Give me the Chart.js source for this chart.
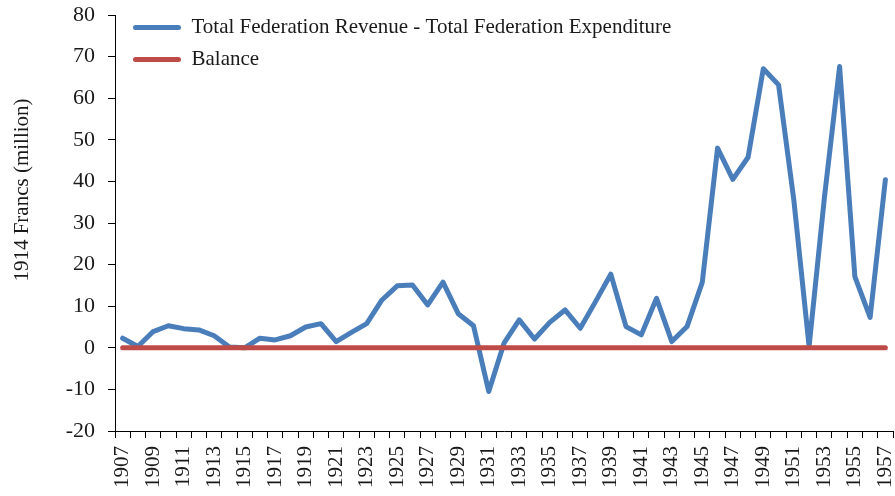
<!DOCTYPE html>
<html>
<head>
<meta charset="utf-8">
<script src="https://cdn.jsdelivr.net/npm/chart.js@4"></script>
<style>
  html, body { margin: 0; padding: 0; background: #fff; }
  #wrap { width: 895px; height: 496px; position: relative; }
</style>
</head>
<body>
<div id="wrap"><canvas id="c" width="895" height="496"></canvas></div>
<script>
const years = ['1907','1908','1909','1910','1911','1912','1913','1914','1915','1916',
  '1917','1918','1919','1920','1921','1922','1923','1924','1925','1926',
  '1927','1928','1929','1930','1931','1932','1933','1934','1935','1936',
  '1937','1938','1939','1940','1941','1942','1943','1944','1945','1946',
  '1947','1948','1949','1950','1951','1952','1953','1954','1955','1956','1957'];

const revenueMinusExpenditure = [2.3, 0.3, 3.9, 5.3, 4.6, 4.3, 2.9, 0.2, 0.0, 2.3,
  1.9, 2.9, 5.0, 5.8, 1.5, 3.7, 5.8, 11.5, 14.9, 15.1,
  10.3, 15.8, 8.2, 5.3, -10.5, 1.1, 6.7, 2.1, 6.1, 9.1,
  4.7, 11.1, 17.7, 5.1, 3.1, 11.9, 1.5, 5.1, 15.8, 48.0,
  40.5, 45.8, 67.1, 63.2, 35.5, 0.3, 36.0, 67.6, 17.1, 7.3, 40.4];

const balance = [0, 0, 0, 0, 0, 0, 0, 0, 0, 0,
  0, 0, 0, 0, 0, 0, 0, 0, 0, 0,
  0, 0, 0, 0, 0, 0, 0, 0, 0, 0,
  0, 0, 0, 0, 0, 0, 0, 0, 0, 0,
  0, 0, 0, 0, 0, 0, 0, 0, 0, 0, 0];

const seriesNames = ['Total Federation Revenue - Total Federation Expenditure', 'Balance'];
const yTitle = '1914 Francs (million)';

const FONT = 'Liberation Serif, Times New Roman, serif';
const BLUE = '#4A7EBB';
const RED = '#BE4B48';

const legendShift = {
  id: 'legendShift',
  afterLayout(chart) {
    if (chart.legend) {
      chart.legend.left += 7;
      chart.legend.top += 6;
    }
  }
};

const yTitlePlugin = {
  id: 'yTitlePlugin',
  afterDraw(chart) {
    const ctx = chart.ctx;
    ctx.save();
    ctx.translate(22, 190);
    ctx.rotate(-Math.PI / 2);
    ctx.fillStyle = '#1a1a1a';
    ctx.font = '21px ' + FONT;
    ctx.textAlign = 'center';
    ctx.textBaseline = 'middle';
    ctx.fillText(yTitle, 0, 0);
    ctx.restore();
  }
};

new Chart(document.getElementById('c'), {
  type: 'line',
  data: {
    labels: years,
    datasets: [
      {
        label: seriesNames[0],
        data: revenueMinusExpenditure,
        borderColor: BLUE,
        backgroundColor: BLUE,
        borderWidth: 5,
        pointRadius: 0,
        tension: 0,
        borderCapStyle: 'round',
        borderJoinStyle: 'round',
        order: 1
      },
      {
        label: seriesNames[1],
        data: balance,
        borderColor: RED,
        backgroundColor: RED,
        borderWidth: 5,
        pointRadius: 0,
        tension: 0,
        borderCapStyle: 'round',
        borderJoinStyle: 'round',
        order: 0
      }
    ]
  },
  options: {
    responsive: false,
    animation: false,
    devicePixelRatio: 1,
    layout: { padding: { top: 15, right: 2, bottom: 0, left: 0 } },
    plugins: {
      tooltip: { enabled: false },
      legend: {
        position: 'chartArea',
        align: 'start',
        labels: {
          boxWidth: 48,
          boxHeight: 5,
          padding: 11,
          useBorderRadius: true,
          borderRadius: 2.5,
          color: '#1a1a1a',
          font: { family: FONT, size: 21 },
          sort: (a, b) => a.datasetIndex - b.datasetIndex,
          generateLabels(chart) {
            return Chart.defaults.plugins.legend.labels.generateLabels(chart).map(l => ({
              ...l, fillStyle: l.strokeStyle, lineWidth: 0
            }));
          }
        }
      }
    },
    scales: {
      x: {
        type: 'category',
        offset: true,
        grid: {
          display: true,
          drawOnChartArea: false,
          drawTicks: true,
          tickLength: 7,
          offset: true,
          color: '#000'
        },
        border: { display: true, color: '#000', width: 1 },
        ticks: {
          autoSkip: false,
          maxRotation: 90,
          minRotation: 90,
          padding: 8,
          color: '#1a1a1a',
          font: { family: FONT, size: 21 },
          callback(value, index) {
            return index % 2 === 0 ? this.getLabelForValue(value) : '';
          }
        },
        afterFit(scale) {
          scale.height = 65;
          scale.paddingLeft = 0;
          scale.paddingRight = 0;
        }
      },
      y: {
        min: -20,
        max: 80,
        grid: {
          display: true,
          drawOnChartArea: false,
          drawTicks: true,
          tickLength: 7,
          color: '#000'
        },
        border: { display: true, color: '#000', width: 1 },
        ticks: {
          stepSize: 10,
          padding: 13,
          color: '#1a1a1a',
          font: { family: FONT, size: 22 }
        },
        title: { display: false },
        afterFit(scale) {
          scale.width = 115;
          scale.paddingTop = 0;
          scale.paddingBottom = 0;
        }
      }
    }
  },
  plugins: [legendShift, yTitlePlugin]
});
</script>
</body>
</html>
